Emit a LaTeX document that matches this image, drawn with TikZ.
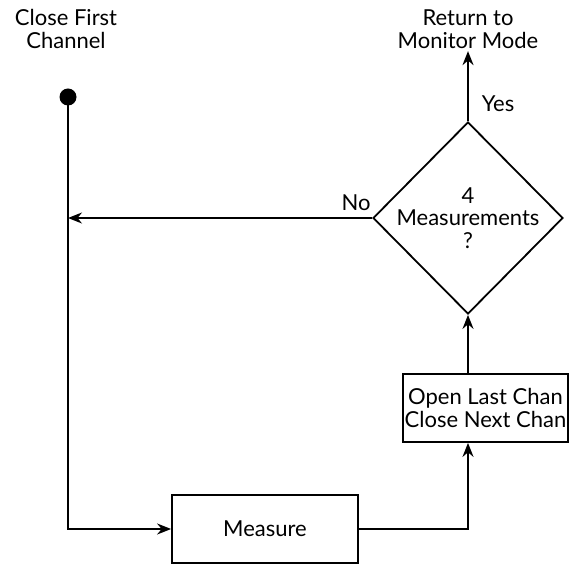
\documentclass[tikz,border=0pt]{standalone}
\usepackage{fontspec}
\setmainfont{Lato}
\usetikzlibrary{shapes.geometric,arrows.meta}
\begin{document}
\begin{tikzpicture}[x=1pt,y=-1pt,line width=1.8pt,
  >={Stealth[length=14pt,width=11pt]},
  font=\fontsize{22}{22.5}\selectfont,
  box/.style={draw,rectangle,inner sep=0pt,align=center},
  txt/.style={inner sep=0pt,align=center}]
\useasboundingbox (0,0) rectangle (570,569);
\node[txt] (start) at (66,29) {Close First\\Channel};
\node[circle,fill,minimum size=17pt,inner sep=0pt] (dot) at (68,97) {};
\node[txt] (ret) at (468,29) {Return to\\Monitor Mode};
\node[box,minimum width=186pt,minimum height=68pt] (meas) at (265,529) {Measure};
\node[box,minimum width=165pt,minimum height=68pt] (open) at (485.5,408) {Open Last Chan\\Close Next Chan};
\node[diamond,draw,minimum width=190pt,minimum height=192pt,inner sep=0pt] (dec) at (468,218) {};
\node[txt] (dect) at (dec.center) {4\\Measurements\\?};
\node[txt,anchor=west] (yes) at (481,104) {Yes};
\node[txt] (no) at (356,203) {No};
\coordinate (join) at (68,218);
\coordinate (turn) at (468,529);
\draw (dot.center) -- (join);
\draw[->] (join) |- (meas.west);
\draw[->] (meas.east) -- (turn) -- (turn |- open.south);
\draw[->] (open.north -| dec.south) -- (dec.south);
\draw[->] (dec.north) -- ([yshift=-2pt]ret.south);
\draw[->] (dec.west) -- (join);
\end{tikzpicture}
\end{document}
